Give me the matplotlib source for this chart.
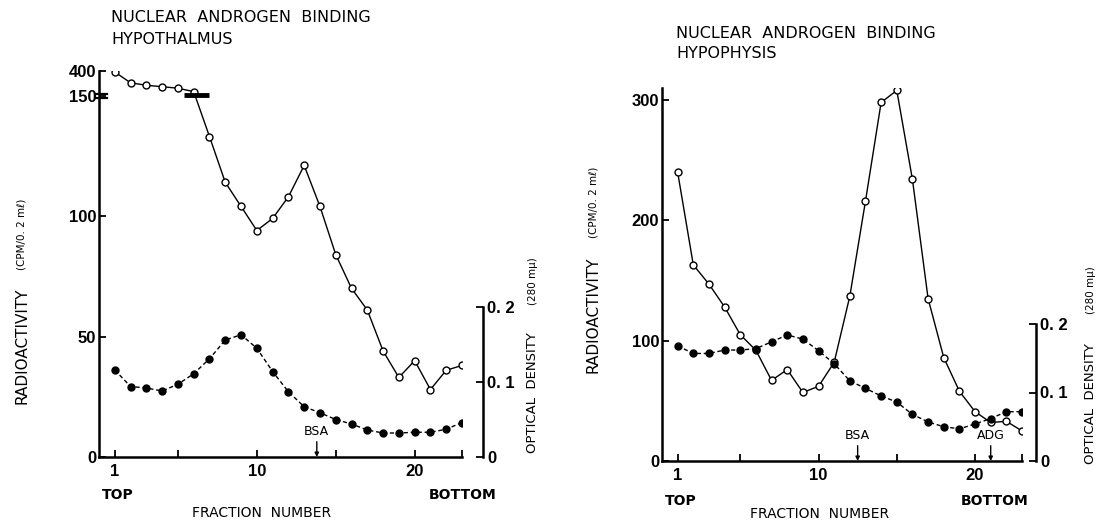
import numpy as np
import matplotlib
import matplotlib.pyplot as plt
matplotlib.use('Agg')

# fraction numbers shared by both gradients
frac = np.arange(1, 24)

# hypothalamus: radioactivity (cpm/0.2 ml) and optical density at 280 mu
hypo_cpm = [390, 280, 255, 240, 225, 190, 133, 114, 104, 94, 99, 108, 121,
            104, 84, 70, 61, 44, 33, 40, 28, 36, 38]
hypo_od = [0.116, 0.094, 0.092, 0.088, 0.097, 0.111, 0.131, 0.156, 0.163,
           0.145, 0.114, 0.087, 0.067, 0.059, 0.050, 0.044, 0.036, 0.032,
           0.032, 0.033, 0.033, 0.037, 0.046]

# hypophysis
hyph_cpm = [240, 163, 147, 128, 105, 92, 67, 76, 57, 62, 82, 137, 216,
            298, 308, 234, 135, 86, 58, 41, 32, 33, 25]
hyph_od = [0.168, 0.157, 0.157, 0.162, 0.162, 0.164, 0.174, 0.184, 0.178,
           0.161, 0.142, 0.117, 0.106, 0.095, 0.086, 0.068, 0.057, 0.050,
           0.047, 0.054, 0.062, 0.072, 0.072]

x_ticks = [1, 10, 20]
x_minor = [5, 15, 23]
od_ticks = [0, 0.1, 0.2]
od_labels = ['0', '0. 1', '0. 2']

W, H = 1098, 522
NUM = dict(family='Liberation Sans', weight='bold')
TXT = dict(family='DejaVu Sans')

# compressed scale above 150 cpm (broken axis)
K = 0.0408


def fwd(y):
    y = np.asarray(y, float)
    return np.where(y <= 150, y, 150 + (y - 150) * K)


def inv(v):
    v = np.asarray(v, float)
    return np.where(v <= 150, v, 150 + (v - 150) / K)


def px_axes(fig, left, right, top, bottom):
    return fig.add_axes([left / W, 1 - bottom / H, (right - left) / W, (bottom - top) / H])


def style_main(ax):
    for s in ['top', 'right']:
        ax.spines[s].set_visible(False)
    for s in ['left', 'bottom']:
        ax.spines[s].set_linewidth(1.8)
    ax.set_xlim(0, 23)
    ax.set_xticks(x_ticks)
    ax.set_xticklabels([str(t) for t in x_ticks], fontsize=12, **NUM)
    ax.set_xticks(x_minor, minor=True)
    ax.tick_params(axis='x', which='both', direction='in', length=5, width=1.3, pad=5)
    ax.tick_params(axis='y', direction='in', length=5, width=1.3, pad=2, labelsize=12)
    ax.patch.set_visible(False)


def style_od(ax, offset, top):
    ax.set_ylim(0, top)
    for s in ['top', 'left', 'bottom']:
        ax.spines[s].set_visible(False)
    ax.spines['right'].set_position(('outward', offset))
    ax.spines['right'].set_bounds(0, 0.2)
    ax.spines['right'].set_linewidth(1.8)
    ax.set_yticks(od_ticks)
    ax.set_yticklabels(od_labels, fontsize=12, **NUM)
    ax.tick_params(axis='y', direction='in', length=5, width=1.3, pad=3)


def plot_pair(ax, od_ax, cpm, od):
    ax.plot(frac, cpm, '-', color='black', lw=1.0, marker='o', ms=5,
            mfc='white', mec='black', mew=1.0, zorder=3)
    od_ax.plot(frac, od, color='black', lw=1.0, ls=(0, (3, 2)), marker='o',
               ms=5, mfc='black', mec='black', zorder=3)


def marker_arrow(ax, x, text):
    ax.annotate('', xy=(x, 0), xytext=(0, 11), textcoords='offset points',
                xycoords=('data', 'data'),
                arrowprops=dict(arrowstyle='-|>', color='black', lw=1.0,
                                mutation_scale=6, shrinkA=0, shrinkB=0))
    ax.annotate(text, xy=(x, 0), xytext=(0, 14), textcoords='offset points',
                ha='center', va='bottom', fontsize=9, **TXT)


def ylab(fig, x, y_main, y_sub, main, sub, size):
    fig.text(x / W, 1 - y_main / H, main, rotation=90, ha='center', va='bottom',
             fontsize=size, **TXT)
    fig.text(x / W, 1 - y_sub / H, sub, rotation=90, ha='center', va='bottom',
             fontsize=7.5, **TXT)


def header(x, y, lines):
    for i, line in enumerate(lines):
        fig.text(x / W, 1 - (y + 21 * i) / H, line, va='center', fontsize=11.5, **TXT)


fig = plt.figure(figsize=(W / 100, H / 100), dpi=100)

# ---- hypothalamus ----
ax1 = px_axes(fig, 99, 462, 71, 457)
ax1.set_yscale('function', functions=(fwd, inv))
ax1.set_ylim(0, 400)
ax1.set_yticks([0, 50, 100, 150, 400])
ax1.set_yticklabels(['0', '50', '100', '150', '400'], fontsize=12, **NUM)
ax1.yaxis.set_minor_locator(matplotlib.ticker.NullLocator())
style_main(ax1)
od1 = ax1.twinx()
style_od(od1, 15, 386 / 750)
plot_pair(ax1, od1, hypo_cpm, hypo_od)
# axis break marks at 150
yt = ax1.get_yaxis_transform()
for yb in [149, 165]:
    ax1.plot([-0.008, 0.022], [yb, yb], color='black', lw=1.6, transform=yt,
             clip_on=False, zorder=4)
ax1.plot([5.4, 7.0], [156, 156], color='black', lw=3.5, solid_capstyle='butt', zorder=4)
marker_arrow(ax1, 13.8, 'BSA')

header(111, 18, ['NUCLEAR  ANDROGEN  BINDING', 'HYPOTHALMUS'])
fig.text(102 / W, 1 - 495 / H, 'TOP', va='center', fontsize=10, weight='bold', family='DejaVu Sans')
fig.text(497 / W, 1 - 495 / H, 'BOTTOM', ha='right', va='center', fontsize=10, weight='bold', family='DejaVu Sans')
fig.text(192 / W, 1 - 513 / H, 'FRACTION  NUMBER', va='center', fontsize=10, **TXT)
ylab(fig, 22, 404, 270, 'RADIOACTIVITY', '(CPM/0. 2 m\u2113)', 11)
ylab(fig, 533, 453, 305, 'OPTICAL  DENSITY', '(280 m\u03bc)', 9.5)

# ---- hypophysis ----
ax2 = px_axes(fig, 662, 1022, 88, 461)
ax2.set_ylim(0, 310)
ax2.set_yticks([0, 100, 200, 300])
ax2.set_yticklabels(['0', '100', '200', '300'], fontsize=12, **NUM)
style_main(ax2)
od2 = ax2.twinx()
style_od(od2, 10, 373 / 685)
plot_pair(ax2, od2, hyph_cpm, hyph_od)
marker_arrow(ax2, 12.5, 'BSA')
marker_arrow(ax2, 21.0, 'ADG')

header(676, 33, ['NUCLEAR  ANDROGEN  BINDING', 'HYPOPHYSIS'])
fig.text(665 / W, 1 - 501 / H, 'TOP', va='center', fontsize=10, weight='bold', family='DejaVu Sans')
fig.text(1028 / W, 1 - 501 / H, 'BOTTOM', ha='right', va='center', fontsize=10, weight='bold', family='DejaVu Sans')
fig.text(750 / W, 1 - 514 / H, 'FRACTION  NUMBER', va='center', fontsize=10, **TXT)
ylab(fig, 593, 373, 238, 'RADIOACTIVITY', '(CPM/0. 2 m\u2113)', 11)
ylab(fig, 1091, 464, 314, 'OPTICAL  DENSITY', '(280 m\u03bc)', 9.5)

fig.savefig('out.png', dpi=100)
plt.close(fig)
